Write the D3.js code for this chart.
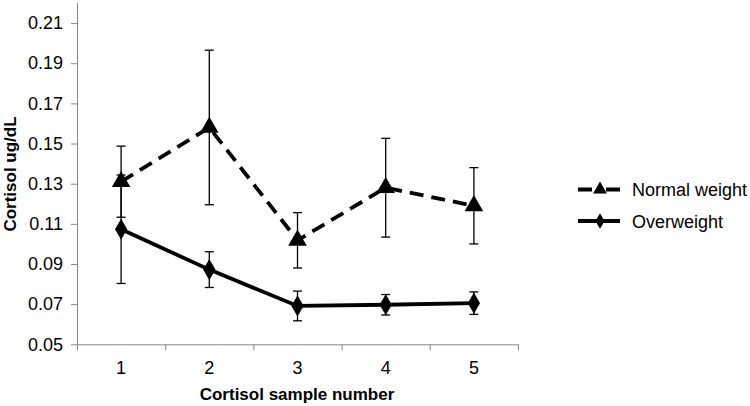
<!DOCTYPE html>
<html>
<head>
<meta charset="utf-8">
<script src="https://cdn.jsdelivr.net/npm/d3@7"></script>
<style>
  html, body { margin: 0; padding: 0; background: #fff; }
  svg { display: block; font-family: "Liberation Sans", Arial, sans-serif; }
</style>
</head>
<body>
<svg id="chart" width="750" height="406"></svg>
<script>
// ---- data ----
const categories = [1, 2, 3, 4, 5];
const normalWeight = [0.131, 0.158, 0.1018, 0.128, 0.119];
const normalWeightErr = [0.0177, 0.0385, 0.0138, 0.0246, 0.019];
const overweight = [0.1073, 0.0872, 0.0691, 0.0697, 0.0705];
const overweightErr = [0.027, 0.0089, 0.0074, 0.0051, 0.0056];
const yTickValues = [0.05, 0.07, 0.09, 0.11, 0.13, 0.15, 0.17, 0.19, 0.21];
const seriesNames = ["Normal weight", "Overweight"];
const xTitle = "Cortisol sample number";
const yTitle = "Cortisol ug/dL";

(function () {
// ---- layout ----
const svg = d3.select("#chart");
const pLeft = 77, pRight = 518, pTop = 3, pBottom = 344.3;
const axisColor = "#868686";

const x = d3.scaleBand().domain(categories).range([pLeft, pRight]).padding(0);
const xc = d => x(d) + x.bandwidth() / 2;
const xEdges = d3.scaleLinear().domain([0.5, categories.length + 0.5]).range([pLeft, pRight]);
const y = d3.scaleLinear().domain([0.05, 0.22]).range([pBottom, pTop]);

// y axis
const yAxis = svg.append("g")
  .attr("transform", `translate(${pLeft},0)`)
  .call(d3.axisLeft(y).tickValues(yTickValues).tickFormat(d3.format(".2f")).tickSize(6).tickPadding(8).tickSizeOuter(0));
yAxis.select(".domain").attr("stroke", axisColor).attr("d", `M0.5,${pTop}V${pBottom}`);
yAxis.selectAll(".tick line").attr("stroke", axisColor);
yAxis.selectAll(".tick text").attr("font-size", 18).attr("fill", "#000").attr("font-family", "Liberation Sans, Arial, sans-serif");

// x axis edge ticks
const xAxisEdges = svg.append("g")
  .attr("transform", `translate(0,${pBottom})`)
  .call(d3.axisBottom(xEdges).tickValues(d3.range(0.5, categories.length + 1, 1)).tickFormat("").tickSize(6).tickSizeOuter(0));
xAxisEdges.select(".domain").attr("stroke", axisColor);
xAxisEdges.selectAll(".tick line").attr("stroke", axisColor);

// x labels
const xAxisLabels = svg.append("g")
  .attr("transform", `translate(0,${pBottom})`)
  .call(d3.axisBottom(x).tickSize(0).tickPadding(17));
xAxisLabels.select(".domain").remove();
xAxisLabels.selectAll(".tick text").attr("font-size", 18).attr("fill", "#000").attr("font-family", "Liberation Sans, Arial, sans-serif");

// titles
svg.append("text")
  .attr("x", 297).attr("y", 400)
  .attr("text-anchor", "middle")
  .attr("font-size", 17).attr("font-weight", "bold")
  .text(xTitle);
svg.append("text")
  .attr("transform", `translate(16,174) rotate(-90)`)
  .attr("text-anchor", "middle")
  .attr("font-size", 17).attr("font-weight", "bold")
  .text(yTitle);

// series
const series = [
  { name: seriesNames[0], values: normalWeight, errs: normalWeightErr, dash: "14,8", symbol: d3.symbolTriangle, size: 150 },
  { name: seriesNames[1], values: overweight, errs: overweightErr, dash: null, symbol: d3.symbolDiamond, size: 130 }
];

const line = d3.line().x((d, i) => xc(categories[i])).y(d => y(d));

series.forEach(s => {
  svg.append("path")
    .datum(s.values)
    .attr("d", line)
    .attr("fill", "none")
    .attr("stroke", "#000")
    .attr("stroke-width", 3.8)
    .attr("stroke-dasharray", s.dash);
});

series.forEach(s => {
  const g = svg.append("g");
  s.values.forEach((v, i) => {
    const cx = xc(categories[i]);
    const y1 = y(v + s.errs[i]), y2 = y(v - s.errs[i]);
    g.append("line").attr("x1", cx).attr("x2", cx).attr("y1", y1).attr("y2", y2)
      .attr("stroke", "#000").attr("stroke-width", 1.3);
    [y1, y2].forEach(yy => {
      g.append("line").attr("x1", cx - 4.5).attr("x2", cx + 4.5).attr("y1", yy).attr("y2", yy)
        .attr("stroke", "#000").attr("stroke-width", 1.3);
    });
  });
});

series.forEach(s => {
  svg.append("g").selectAll("path")
    .data(s.values)
    .join("path")
    .attr("transform", (d, i) => `translate(${xc(categories[i])},${y(d)})`)
    .attr("d", d3.symbol().type(s.symbol).size(s.size))
    .attr("fill", "#000");
});

// legend
const legendY = [189.5, 221];
series.forEach((s, i) => {
  const g = svg.append("g");
  g.append("line").attr("x1", 578).attr("x2", 620).attr("y1", legendY[i]).attr("y2", legendY[i])
    .attr("stroke", "#000").attr("stroke-width", 3.8)
    .attr("stroke-dasharray", s.dash ? "14,14" : null);
  g.append("path")
    .attr("transform", `translate(600,${legendY[i]})`)
    .attr("d", d3.symbol().type(s.symbol).size(s.size * 0.55))
    .attr("fill", "#000");
  g.append("text")
    .attr("x", 632).attr("y", legendY[i] + 6.5)
    .attr("font-size", 18)
    .attr("fill", "#000")
    .text(s.name);
});
})();
</script>
</body>
</html>
